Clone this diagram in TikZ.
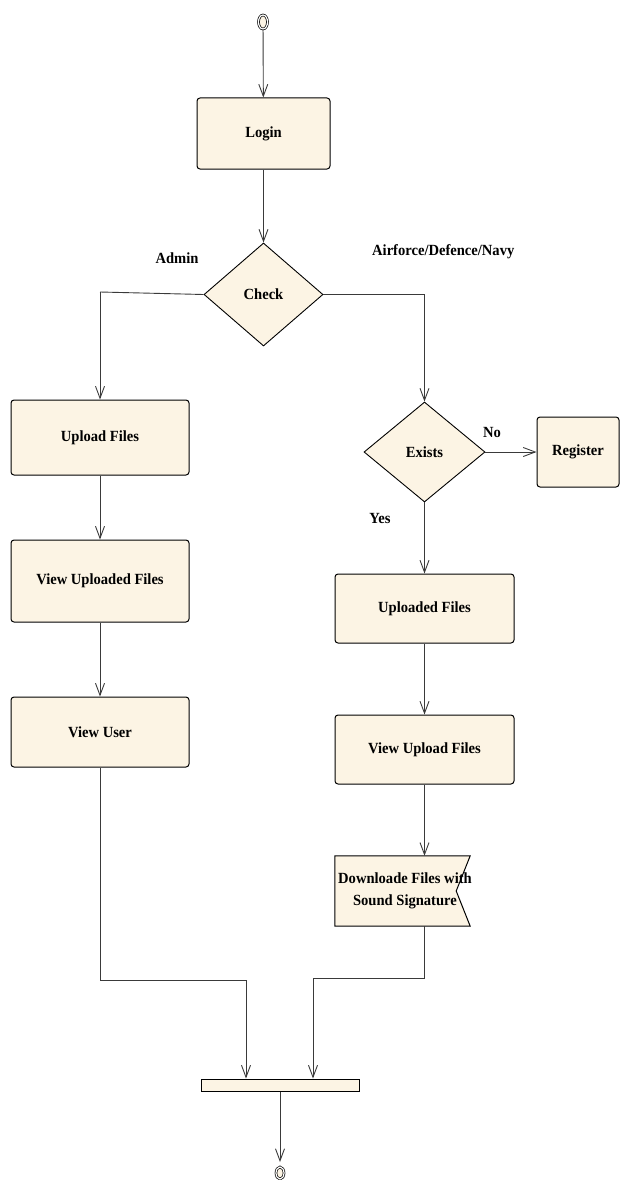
\documentclass[tikz,border=0pt]{standalone}
\usepackage{fontspec}
\setmainfont{Liberation Serif}[FakeStretch=0.94]
\usetikzlibrary{arrows.meta,shapes.geometric,shapes.misc,backgrounds}
\definecolor{cream}{HTML}{FCF4E4}
\definecolor{wire}{HTML}{3A3A3A}
\tikzset{
  lbl/.style={font=\bfseries\fontsize{15.5}{22}\selectfont, text=black},
  actbox/.style={lbl, rectangle, rounded corners=3pt, draw=black, line width=1pt,
    fill=cream, inner sep=0pt},
  decide/.style={lbl, diamond, draw=black, line width=0.9pt, fill=cream, inner sep=0pt},
  flow/.style={draw=wire, line width=0.9pt, -{Straight Barb[length=12pt,width=9pt]}},
  wire/.style={draw=wire, line width=0.9pt},
  terminal/.style={ellipse, draw=black, line width=0.7pt, double=white,
    double distance=1.2pt, fill=cream, inner sep=0pt},
  tag/.style={lbl, inner sep=0pt}
}
\begin{document}
\begin{tikzpicture}[x=1pt,y=-1pt]
\useasboundingbox (0,0) rectangle (621,1180);

% start and end markers
\node[terminal, minimum width=9pt, minimum height=14pt] (start) at (263,22) {};
\node[terminal, minimum width=8pt, minimum height=12pt] (stop) at (280,1173) {};

% left branch
\node[actbox, minimum width=133pt, minimum height=71pt] (login) at (263.5,133.5) {Login};
\node[decide, minimum width=119pt, minimum height=103pt] (check) at (263.5,294.5) {Check};
\node[actbox, minimum width=178pt, minimum height=75pt] (upload) at (100,437.5) {Upload Files};
\node[actbox, minimum width=178pt, minimum height=82pt] (viewup) at (100,581) {View Uploaded Files};
\node[actbox, minimum width=178pt, minimum height=70pt] (viewuser) at (100,732) {View User};

% right branch
\node[decide, minimum width=121pt, minimum height=100pt] (exists) at (424.5,452) {Exists};
\node[actbox, minimum width=82pt, minimum height=70pt] (register) at (578,452) {Register};
\node[actbox, minimum width=179pt, minimum height=69pt] (uploaded) at (424.5,608.5) {Uploaded Files};
\node[actbox, minimum width=179pt, minimum height=69pt] (viewupl) at (424.5,749.5) {View Upload Files};
% send-signal action: the text block runs slightly under the notch on its right side
\node[lbl, rectangle, minimum width=140pt, minimum height=70pt, inner sep=0pt,
      align=center] (download) at (405,891) {Downloade Files with\\Sound Signature};
\begin{scope}[on background layer]
  \draw[draw=black, line width=1pt, fill=cream]
    (download.north west) -- ([xshift=-5pt]download.north east)
    -- ([xshift=-19pt]download.east) -- ([xshift=-5pt]download.south east)
    -- (download.south west) -- cycle;
\end{scope}

% synchronisation bar
\node[rectangle, draw=black, line width=1pt, fill=cream, minimum width=158pt,
      minimum height=12pt, inner sep=0pt] (bar) at (280,1085) {};

% guard labels
\node[tag] (tadmin) at (177,258) {Admin};
\node[tag, anchor=west] (tforce) at (372,252) {Airforce/Defence/Navy};
\node[tag] (tno) at (492,432) {No};
\node[tag] (tyes) at (380,518) {Yes};

% bend points of the connectors
\coordinate (lbend) at (100,292);
\coordinate (rbend) at (424.5,294.5);
\coordinate (ldown) at (100,980);
\coordinate (lin) at (246,980);
\coordinate (rdown) at (424.5,978);
\coordinate (rin) at (313,978);

% connectors
\draw[flow] (start) -- (login);
\draw[flow] (login) -- (check);
\draw[wire] (check.west) -- (lbend);
\draw[flow] (lbend) -- (upload.north);
\draw[wire] (check.east) -- (rbend);
\draw[flow] (rbend) -- (exists.north);
\draw[flow] (upload) -- (viewup);
\draw[flow] (viewup) -- (viewuser);
\draw[flow] (exists.east) -- (register.west);
\draw[flow] (exists.south) -- (uploaded.north);
\draw[flow] (uploaded) -- (viewupl);
\draw[flow] (viewupl.south) -- (viewupl.south |- download.north);
\draw[wire] (viewuser.south) -- (ldown) -- (lin);
\draw[flow] (lin) -- (lin |- bar.north);
\draw[wire] (viewupl.south |- download.south) -- (rdown) -- (rin);
\draw[flow] (rin) -- (rin |- bar.north);
\draw[flow, shorten >=11pt] (bar.south) -- (stop.center);
\end{tikzpicture}
\end{document}
